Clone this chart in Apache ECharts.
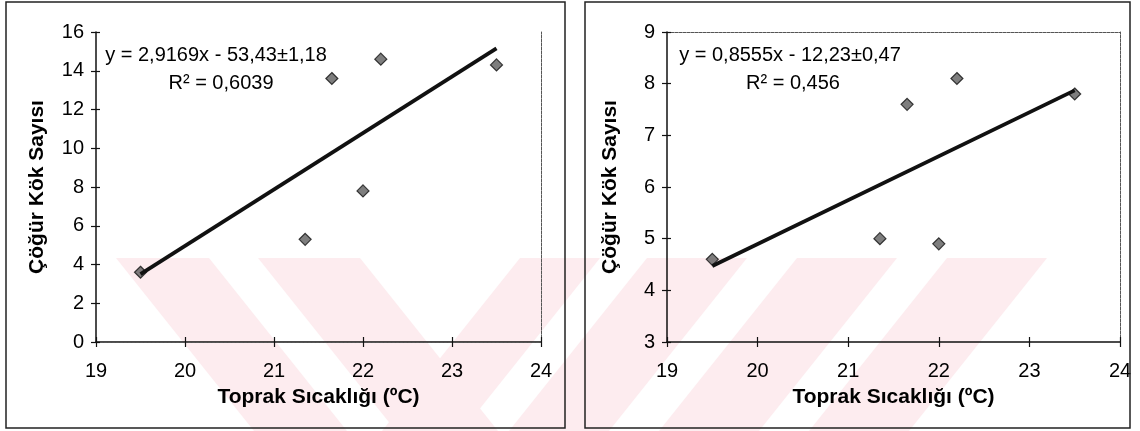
<!DOCTYPE html>
<html>
<head>
<meta charset="utf-8">
<script src="https://cdn.jsdelivr.net/npm/echarts@6/dist/echarts.min.js"></script>
<style>
  html, body { margin: 0; padding: 0; background: #fff; }
  #chart { width: 1140px; height: 431px; }
</style>
</head>
<body>
<div id="chart"></div>
<script>
// ---- data ----
const tempX   = [19.5, 21.35, 21.65, 22.0, 22.2, 23.5];   // Toprak Sıcaklığı (ºC)
const rootsA  = [3.6, 5.3, 13.6, 7.8, 14.6, 14.3];         // left panel: Çöğür Kök Sayısı
const rootsB  = [4.6, 5.0, 7.6, 4.9, 8.1, 7.8];            // right panel: Çöğür Kök Sayısı
const trendX  = [19.5, 23.5];                              // trend line end points (x)
const trendA  = [3.5, 15.15];                              // left trend line end points (y)
const trendB  = [4.47, 7.87];                              // right trend line end points (y)
const eqA     = ['y = 2,9169x - 53,43±1,18', 'R² = 0,6039'];
const eqB     = ['y = 0,8555x - 12,23±0,47', 'R² = 0,456'];
const xTitle  = 'Toprak Sıcaklığı (ºC)';
const yTitle  = 'Çöğür Kök Sayısı';
const xRange  = [19, 24, 1];
const yRangeA = [0, 16, 2];
const yRangeB = [3, 9, 1];

const FONT = "'Liberation Sans', Arial, sans-serif";
const INK = '#000';
const pts = (xs, ys) => xs.map((x, i) => [x, ys[i]]);

function xAxes(g) {
  return [
    { gridIndex: g, type: 'value', position: 'bottom', min: xRange[0], max: xRange[1], interval: xRange[2],
      name: xTitle, nameLocation: 'middle', nameGap: 45,
      nameTextStyle: { fontFamily: FONT, fontSize: 21, fontWeight: 'bold', color: INK },
      axisLine: { show: true, lineStyle: { color: '#111', width: 1.5 } },
      axisTick: { show: true, inside: false, length: 5, lineStyle: { color: '#111', width: 1.2 } },
      axisLabel: { fontFamily: FONT, fontSize: 20, color: INK, margin: 19 },
      splitLine: { show: false } },
    { gridIndex: g, type: 'value', position: 'bottom', min: xRange[0], max: xRange[1], interval: xRange[2],
      axisLine: { show: false },
      axisTick: { show: true, inside: true, length: 5, lineStyle: { color: '#111', width: 1.2 } },
      axisLabel: { show: false }, splitLine: { show: false } },
    { gridIndex: g, type: 'value', position: 'top', min: xRange[0], max: xRange[1], interval: xRange[2],
      axisLine: { show: true, lineStyle: { color: '#555', width: 1, type: [3, 1] } },
      axisTick: { show: false }, axisLabel: { show: false }, splitLine: { show: false } }
  ];
}
function yAxes(g, r, gap) {
  return [
    { gridIndex: g, type: 'value', position: 'left', min: r[0], max: r[1], interval: r[2],
      name: yTitle, nameLocation: 'middle', nameGap: gap, nameRotate: 90,
      nameTextStyle: { fontFamily: FONT, fontSize: 21, fontWeight: 'bold', color: INK },
      axisLine: { show: true, lineStyle: { color: '#111', width: 1.5 } },
      axisTick: { show: true, inside: false, length: 5, lineStyle: { color: '#111', width: 1.2 } },
      axisLabel: { fontFamily: FONT, fontSize: 20, color: INK, margin: 12 },
      splitLine: { show: false } },
    { gridIndex: g, type: 'value', position: 'left', min: r[0], max: r[1], interval: r[2],
      axisLine: { show: false },
      axisTick: { show: true, inside: true, length: 4, lineStyle: { color: '#111', width: 1.2 } },
      axisLabel: { show: false }, splitLine: { show: false } },
    { gridIndex: g, type: 'value', position: 'right', min: r[0], max: r[1], interval: r[2],
      axisLine: { show: true, lineStyle: { color: '#555', width: 1, type: [3, 1] } },
      axisTick: { show: false }, axisLabel: { show: false }, splitLine: { show: false } }
  ];
}

const PINK = '#fdecef';
const stripes = [
  [[116,258],[209,258],[347,431],[254,431]],
  [[258,258],[360,258],[498,431],[396,431]],
  [[520,258],[600,258],[462,431],[382,431]],
  [[647,258],[747,258],[609,431],[509,431]],
  [[797,258],[897,258],[759,431],[659,431]],
  [[947,258],[1047,258],[909,431],[809,431]]
];
const graphics = stripes.map(p => ({
  type: 'polygon', z: -100, silent: true, shape: { points: p }, style: { fill: PINK }
}));
graphics.push(
  { type: 'rect', z: 100, silent: true, shape: { x: 6, y: 2, width: 559, height: 426 },
    style: { fill: 'none', stroke: '#222', lineWidth: 1.5 } },
  { type: 'rect', z: 100, silent: true, shape: { x: 585, y: 2, width: 545, height: 426 },
    style: { fill: 'none', stroke: '#222', lineWidth: 1.5 } }
);
function eqText(lines, x1, x2) {
  return [
    { type: 'text', z: 100, x: x1, y: 55, style: { text: lines[0], fontFamily: FONT, fontSize: 20,
      fill: INK, textAlign: 'center', textVerticalAlign: 'middle' } },
    { type: 'text', z: 100, x: x2, y: 83, style: { text: lines[1], fontFamily: FONT, fontSize: 20,
      fill: INK, textAlign: 'center', textVerticalAlign: 'middle' } }
  ];
}
graphics.push(...eqText(eqA, 216, 221), ...eqText(eqB, 790, 793));

const marker = { color: '#5e5e5e', borderColor: '#111', borderWidth: 1.2 };

const option = {
  backgroundColor: '#fff',
  animation: false,
  grid: [
    { left: 96, top: 32, width: 445, height: 310 },
    { left: 667, top: 32, width: 453, height: 310 }
  ],
  xAxis: [...xAxes(0), ...xAxes(1)],
  yAxis: [...yAxes(0, yRangeA, 48), ...yAxes(1, yRangeB, 46)],
  series: [
    { type: 'scatter', xAxisIndex: 0, yAxisIndex: 0, data: pts(tempX, rootsA),
      symbol: 'diamond', symbolSize: 12, itemStyle: marker, z: 3 },
    { type: 'line', xAxisIndex: 0, yAxisIndex: 0, data: pts(trendX, trendA),
      showSymbol: false, lineStyle: { color: '#111', width: 3.8 }, z: 4 },
    { type: 'scatter', xAxisIndex: 3, yAxisIndex: 3, data: pts(tempX, rootsB),
      symbol: 'diamond', symbolSize: 12, itemStyle: marker, z: 3 },
    { type: 'line', xAxisIndex: 3, yAxisIndex: 3, data: pts(trendX, trendB),
      showSymbol: false, lineStyle: { color: '#111', width: 3.8 }, z: 4 }
  ],
  graphic: { elements: graphics }
};

const chart = echarts.init(document.getElementById('chart'), null, { renderer: 'canvas' });
chart.setOption(option);
</script>
</body>
</html>
